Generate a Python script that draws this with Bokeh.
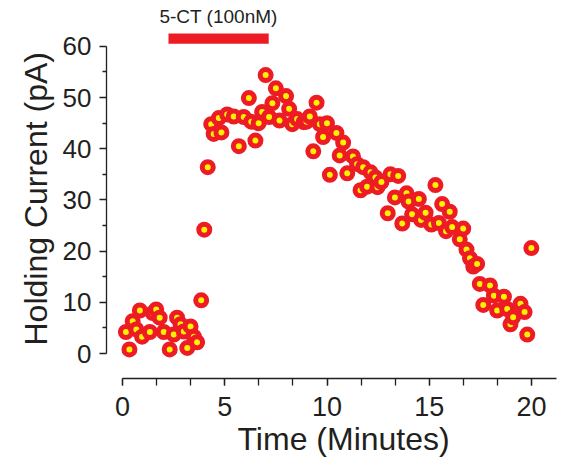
from bokeh.plotting import figure
from bokeh.models import Range1d, FixedTicker, ColumnDataSource, Title
from bokeh.embed import file_html
from bokeh.resources import INLINE
from bokeh.core.properties import value

# ---- data ----
time_min = [0.17, 0.34, 0.50, 0.68, 0.85, 0.96, 1.34, 1.48, 1.65, 1.82, 2.02, 2.31, 2.51, 2.67,
            2.84, 3.00, 3.17, 3.33, 3.49, 3.65, 3.85, 4.00, 4.17, 4.34, 4.46, 4.71, 4.84, 5.12,
            5.44, 5.69, 5.93, 6.18, 6.30, 6.50, 6.66, 6.83, 7.00, 7.17, 7.33, 7.50, 7.68, 8.00,
            8.15, 8.30, 8.54, 8.86, 9.00, 9.16, 9.33, 9.49, 9.65, 9.81, 10.00, 10.14, 10.46,
            10.62, 10.79, 10.99, 11.27, 11.47, 11.64, 11.77, 11.96, 12.13, 12.37, 12.47, 12.66,
            12.97, 13.10, 13.32, 13.48, 13.68, 13.89, 13.99, 14.16, 14.49, 14.60, 14.82, 15.10,
            15.30, 15.47, 15.63, 15.82, 16.00, 16.12, 16.49, 16.66, 16.82, 16.99, 17.15, 17.34,
            17.47, 17.64, 17.97, 18.16, 18.32, 18.65, 18.81, 18.97, 19.10, 19.46, 19.66, 19.79,
            19.99]
current_pa = [4.2, 0.8, 6.3, 4.7, 8.4, 3.3, 4.2, 7.9, 8.6, 7.0, 4.2, 0.8, 3.7, 7.0,
              5.7, 4.3, 1.1, 5.3, 3.3, 2.2, 10.4, 24.2, 36.4, 44.8, 42.9, 46.0, 43.2, 46.7,
              46.3, 40.5, 46.2, 49.9, 45.3, 41.6, 45.0, 47.2, 54.4, 46.2, 48.9, 51.8, 45.5, 50.3,
              47.8, 44.8, 45.8, 45.2, 45.3, 46.3, 39.5, 49.0, 44.8, 42.3, 45.0, 34.9, 43.1,
              38.7, 41.2, 35.2, 38.5, 37.0, 31.9, 36.4, 32.6, 35.4, 34.4, 32.5, 33.5,
              27.4, 35.0, 30.5, 34.7, 25.4, 31.3, 29.7, 27.2, 30.2, 26.1, 27.5, 25.2,
              32.9, 25.5, 29.2, 23.9, 27.7, 24.7, 22.3, 24.4, 20.3, 18.6, 17.0, 17.5,
              13.6, 9.5, 13.3, 11.3, 8.4, 11.1, 8.7, 5.7, 7.1, 9.7, 8.1, 3.7,
              20.6]

x_major_ticks = [0, 5, 10, 15, 20]
x_minor_ticks = [0, 1.667, 3.333, 5, 6.667, 8.333, 10, 11.667, 13.333, 15, 16.667, 18.333, 20]
y_major_ticks = [0, 10, 20, 30, 40, 50, 60]
y_minor_ticks = [5, 15, 25, 35, 45, 55]

x_title = "Time (Minutes)"
y_title = "Holding Current (pA)"
drug_label = "5-CT (100nM)"
drug_start = 2.25
drug_end = 7.15

RED = "#ed1c24"
YELLOW = "#fff200"
INK = "#231f20"
FONT = "Liberation Sans"

p = figure(width=564, height=462, output_backend="svg", toolbar_location=None,
           x_range=Range1d(-0.78, 21.22), y_range=Range1d(-4.88, 67.4),
           min_border_left=106, min_border_right=8, min_border_top=8, min_border_bottom=84)
p.outline_line_color = None
p.grid.visible = False
p.background_fill_color = "white"

src = ColumnDataSource(dict(t=time_min, v=current_pa))
p.scatter("t", "v", source=src, size=11, fill_color=YELLOW, line_color=RED, line_width=5)

# drug application bar and label
p.quad(left=[drug_start], right=[drug_end], bottom=[60.5], top=[62.5], fill_color=RED, line_color=None)
p.text(x=[(drug_start + drug_end) / 2], y=[65.8], text=[drug_label], text_align="center",
       text_baseline="middle", text_font=value(FONT), text_font_size="19px", text_color=INK)

xa = p.xaxis[0]
xa.ticker = FixedTicker(ticks=x_major_ticks, minor_ticks=x_minor_ticks)
xa.bounds = (0, 21.3)
ya = p.yaxis[0]
ya.ticker = FixedTicker(ticks=y_major_ticks, minor_ticks=y_minor_ticks)
ya.bounds = (0, 60)

for ax in (xa, ya):
    ax.axis_line_color = INK
    ax.axis_line_width = 1.3
    ax.major_tick_line_color = INK
    ax.minor_tick_line_color = INK
    ax.major_tick_line_width = 1.3
    ax.minor_tick_line_width = 1.3
    ax.major_tick_in = 0
    ax.minor_tick_in = 0
    ax.major_label_text_font = FONT
    ax.major_label_text_color = INK

xa.major_label_text_font_size = "27px"
ya.major_label_text_font_size = "26px"
xa.major_tick_out = 7
xa.minor_tick_out = 7
ya.major_tick_out = 7
ya.minor_tick_out = 4
xa.major_label_standoff = 11
ya.major_label_standoff = 8

# axis titles as side-panel titles, shifted like the reference
p.add_layout(Title(text=x_title, align="left", offset=131, standoff=0,
                   text_font=FONT, text_font_size="32px", text_font_style="normal",
                   text_color=INK), "below")
p.add_layout(Title(text=y_title, align="left", offset=33, standoff=12,
                   text_font=FONT, text_font_size="32px", text_font_style="normal",
                   text_color=INK), "left")

open("out.html", "w").write(file_html(p, INLINE))
